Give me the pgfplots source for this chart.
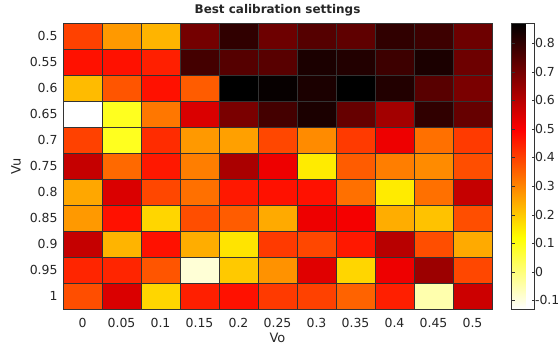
\documentclass[border=0pt]{standalone}
\usepackage{pgfplots}
\pgfplotsset{compat=1.18}
\usepackage{fontspec}
\setmainfont{DejaVu Sans}
\begin{document}
\begin{tikzpicture}[x=1bp,y=1bp]
\path[use as bounding box] (0,0) rectangle (558,345);
\begin{axis}[
  at={(63bp,36bp)}, anchor=south west,
  scale only axis, width=429bp, height=286bp,
  xmin=-0.5, xmax=10.5, ymin=-0.5, ymax=10.5,
  y dir=reverse,
  xtick={0,...,10}, ytick={0,...,10},
  xticklabels={0,0.05,0.1,0.15,0.2,0.25,0.3,0.35,0.4,0.45,0.5},
  yticklabels={0.5,0.55,0.6,0.65,0.7,0.75,0.8,0.85,0.9,0.95,1},
  major tick length=0pt,
  tick label style={font=\fontsize{12.5}{14}\selectfont, text=black!85},
  xticklabel style={anchor=base, yshift=-18bp},
  yticklabel style={xshift=-2bp},
  axis line style={draw=black!80},
  title={\bfseries Best calibration settings},
  title style={at={(axis description cs:0.5,1)}, anchor=base, yshift=4bp, font=\fontsize{12}{14}\selectfont, text=black!85},
  xlabel={Vo}, ylabel={Vu},
  every axis x label/.style={at={(axis description cs:0.5,0)}, anchor=base, yshift=-33bp, font=\fontsize{13}{15}\selectfont, text=black!85},
  every axis y label/.style={at={(axis description cs:0,0.5)}, xshift=-47bp, rotate=90, anchor=center, font=\fontsize{13}{15}\selectfont, text=black!85},
  colormap={hotr}{rgb(0)=(1,1,1) rgb(2)=(1,1,0) rgb(5)=(1,0,0) rgb(8)=(0,0,0)},
  point meta min=-0.13, point meta max=0.87,
  colorbar,
  colorbar style={
    at={(parent axis.north east)}, anchor=north west, xshift=11bp,
    width=23bp,
    ytick={-0.1,0,0.1,0.2,0.3,0.4,0.5,0.6,0.7,0.8},
    yticklabels={-0.1,0,0.1,0.2,0.3,0.4,0.5,0.6,0.7,0.8},
    yticklabel style={font=\fontsize{12.5}{14}\selectfont, text=black!85, anchor=west, xshift=-3bp},
    major tick length=3bp,
    axis line style={draw=black!80},
    tick style={draw=black!80},
  },
]
\addplot[matrix plot*, mesh/cols=11, point meta=explicit, shader=faceted, faceted color=black!80, line width=0.6pt] table[meta=c] {
x y c
0 0 0.40
1 0 0.27
2 0 0.23
3 0 0.70
4 0 0.80
5 0 0.71
6 0 0.745
7 0 0.73
8 0 0.80
9 0 0.78
10 0 0.71
0 1 0.47
1 1 0.47
2 1 0.45
3 1 0.77
4 1 0.745
5 1 0.74
6 1 0.83
7 1 0.82
8 1 0.78
9 1 0.83
10 1 0.71
0 2 0.22
1 2 0.37
2 2 0.47
3 2 0.36
4 2 0.87
5 2 0.86
6 2 0.83
7 2 0.87
8 2 0.82
9 2 0.74
10 2 0.69
0 3 -0.13
1 3 0.09
2 3 0.32
3 3 0.55
4 3 0.69
5 3 0.77
6 3 0.83
7 3 0.72
8 3 0.63
9 3 0.80
10 3 0.72
0 4 0.40
1 4 0.09
2 4 0.43
3 4 0.27
4 4 0.26
5 4 0.39
6 4 0.29
7 4 0.41
8 4 0.52
9 4 0.33
10 4 0.41
0 5 0.58
1 5 0.34
2 5 0.46
3 5 0.31
4 5 0.62
5 5 0.52
6 5 0.15
7 5 0.36
8 5 0.31
9 5 0.29
10 5 0.38
0 6 0.25
1 6 0.55
2 6 0.39
3 6 0.33
4 6 0.46
5 6 0.47
6 6 0.47
7 6 0.33
8 6 0.15
9 6 0.33
10 6 0.58
0 7 0.27
1 7 0.47
2 7 0.18
3 7 0.38
4 7 0.36
5 7 0.245
6 7 0.52
7 7 0.51
8 7 0.24
9 7 0.21
10 7 0.38
0 8 0.58
1 8 0.23
2 8 0.47
3 8 0.24
4 8 0.16
5 8 0.41
6 8 0.39
7 8 0.46
8 8 0.60
9 8 0.38
10 8 0.245
0 9 0.44
1 9 0.44
2 9 0.37
3 9 -0.09
4 9 0.20
5 9 0.28
6 9 0.54
7 9 0.18
8 9 0.52
9 9 0.64
10 9 0.39
0 10 0.38
1 10 0.55
2 10 0.18
3 10 0.45
4 10 0.47
5 10 0.41
6 10 0.40
7 10 0.35
8 10 0.45
9 10 -0.05
10 10 0.57
};
\end{axis}
\end{tikzpicture}
\end{document}
